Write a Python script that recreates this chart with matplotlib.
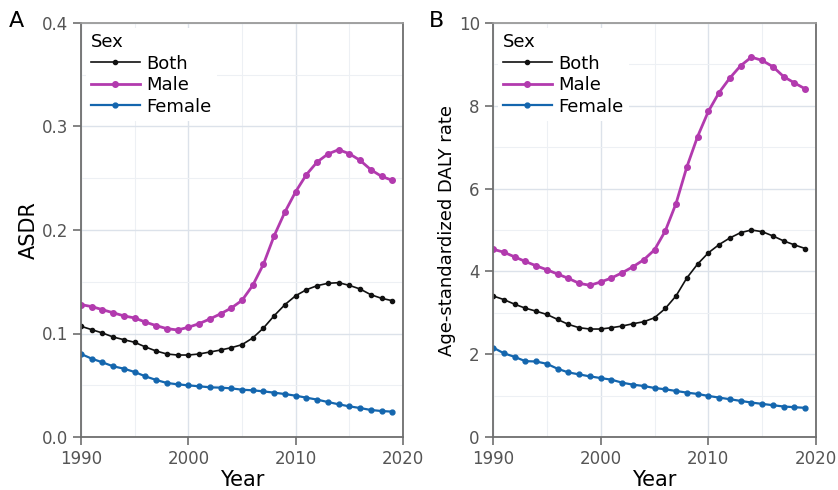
import numpy as np
import matplotlib
matplotlib.use('Agg')
import matplotlib.pyplot as plt
from matplotlib.ticker import MultipleLocator

plt.rcParams['font.family'] = ['DejaVu Sans']

years = list(range(1990, 2020))

# panel A: ASDR
asdr_both = [0.107, 0.1037, 0.1005, 0.0966, 0.094, 0.0915, 0.087, 0.0831, 0.0802, 0.0792,
             0.0792, 0.0802, 0.0821, 0.084, 0.0863, 0.0892, 0.0957, 0.1053, 0.1172, 0.1279,
             0.1365, 0.1423, 0.1462, 0.1485, 0.1491, 0.1465, 0.143, 0.1375, 0.134, 0.1317]
asdr_male = [0.1279, 0.126, 0.123, 0.120, 0.117, 0.115, 0.111, 0.1076, 0.1047, 0.1034,
             0.106, 0.1095, 0.114, 0.119, 0.1246, 0.132, 0.1465, 0.167, 0.1945, 0.2174,
             0.237, 0.2535, 0.2657, 0.2734, 0.2776, 0.2737, 0.2673, 0.2583, 0.2518, 0.248]
asdr_female = [0.0802, 0.0757, 0.0721, 0.0683, 0.066, 0.0628, 0.0586, 0.0551, 0.0522, 0.0509,
               0.0499, 0.049, 0.048, 0.0477, 0.047, 0.0457, 0.0451, 0.0441, 0.0428, 0.0415,
               0.0399, 0.038, 0.0361, 0.0338, 0.0316, 0.0296, 0.028, 0.0261, 0.0251, 0.0245]

# panel B: age-standardized DALY rate
daly_both = [3.408, 3.32, 3.208, 3.112, 3.04, 2.96, 2.84, 2.72, 2.64, 2.608,
             2.608, 2.64, 2.68, 2.736, 2.784, 2.88, 3.104, 3.408, 3.84, 4.176,
             4.448, 4.648, 4.808, 4.936, 5.0, 4.96, 4.856, 4.736, 4.64, 4.552]
daly_male = [4.536, 4.464, 4.352, 4.24, 4.136, 4.04, 3.936, 3.832, 3.712, 3.664,
             3.744, 3.84, 3.968, 4.112, 4.28, 4.52, 4.976, 5.64, 6.52, 7.256,
             7.864, 8.32, 8.672, 8.968, 9.176, 9.096, 8.944, 8.704, 8.552, 8.408]
daly_female = [2.16, 2.024, 1.936, 1.832, 1.824, 1.768, 1.648, 1.56, 1.512, 1.464,
               1.424, 1.384, 1.312, 1.264, 1.232, 1.184, 1.152, 1.112, 1.072, 1.04,
               0.992, 0.952, 0.912, 0.872, 0.832, 0.8, 0.768, 0.736, 0.72, 0.704]

col_both = '#111111'
col_male = '#B23AAE'
col_female = '#1466AE'
grey = '#555555'

fig = plt.figure(figsize=(8.38, 4.9), dpi=100)
axA = fig.add_axes([81 / 838, 53 / 490, 322 / 838, 414 / 490])
axB = fig.add_axes([493 / 838, 53 / 490, 323 / 838, 414 / 490])


def draw(ax, both, male, female, ymax, ymaj, ylabel, ylsize, fmt):
    ax.plot(years, both, color=col_both, lw=1.2, marker='o', ms=3, label='Both')
    ax.plot(years, male, color=col_male, lw=2.0, marker='o', ms=4, label='Male')
    ax.plot(years, female, color=col_female, lw=1.6, marker='o', ms=3.5, label='Female')
    ax.set_xlim(1990, 2020)
    ax.set_ylim(0, ymax)
    ax.xaxis.set_major_locator(MultipleLocator(10))
    ax.xaxis.set_minor_locator(MultipleLocator(5))
    ax.yaxis.set_major_locator(MultipleLocator(ymaj))
    ax.yaxis.set_minor_locator(MultipleLocator(ymaj / 2))
    ax.yaxis.set_major_formatter(fmt)
    ax.grid(which='major', color='#dce2ea', lw=1.0)
    ax.grid(which='minor', color='#edf0f4', lw=0.8)
    ax.set_axisbelow(True)
    for s in ax.spines.values():
        s.set_color('#6e6e6e')
        s.set_linewidth(1.3)
    ax.spines['top'].set_color('#9a9a9a')
    ax.tick_params(which='major', direction='out', length=6, width=1.2, color='#6e6e6e',
                   labelsize=12, labelcolor=grey, pad=3.5)
    ax.tick_params(which='minor', length=0)
    ax.set_xlabel('Year', fontsize=15, labelpad=1)
    ax.set_ylabel(ylabel, fontsize=ylsize, labelpad=2)
    leg = ax.legend(title='Sex', loc='upper left', frameon=True, fontsize=13,
                    title_fontsize=13, handlelength=2.7, handletextpad=0.35,
                    labelspacing=0.2, borderaxespad=0.25, borderpad=0.3)
    leg.get_frame().set_edgecolor('none')
    leg.get_frame().set_facecolor('white')
    leg.get_frame().set_alpha(1)
    leg._legend_box.align = 'left'


draw(axA, asdr_both, asdr_male, asdr_female, 0.4, 0.1, 'ASDR', 15,
     plt.FuncFormatter(lambda v, p: f'{v:.1f}'))
draw(axB, daly_both, daly_male, daly_female, 10, 2, 'Age-standardized DALY rate', 13,
     plt.FuncFormatter(lambda v, p: f'{v:g}'))

# panel letters
fig.text(9 / 838, 1 - 21 / 490, 'A', fontsize=16, ha='left', va='center')
fig.text(429 / 838, 1 - 21 / 490, 'B', fontsize=16, ha='left', va='center')

fig.savefig('out.png', dpi=100)
